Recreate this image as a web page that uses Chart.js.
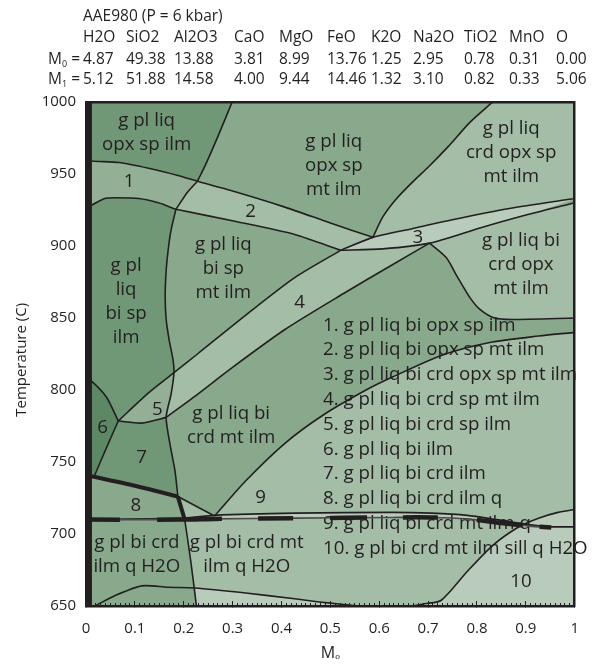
<!DOCTYPE html>
<html>
<head>
<meta charset="utf-8">
<script src="https://cdn.jsdelivr.net/npm/chart.js@4.4.1/dist/chart.umd.min.js"></script>
<style>
  html, body { margin: 0; padding: 0; background: #fff; }
  #wrap { position: relative; width: 598px; height: 668px; overflow: hidden; }
  #chart { position: absolute; left: 0; top: 0; }
  .hd { position: absolute; font: 15.5px "Open Sans", sans-serif; line-height: 20px; color: #231f20; white-space: nowrap; }
  .hd sub { font-size: 9px; vertical-align: -3px; line-height: 0; }
</style>
</head>
<body>
<div id="wrap">
  <canvas id="chart" width="598" height="668"></canvas>
  <div id="header"></div>
</div>
<script>
const INK = '#231f20';

// bulk compositions (mol %)
const oxides = ['H2O', 'SiO2', 'Al2O3', 'CaO', 'MgO', 'FeO', 'K2O', 'Na2O', 'TiO2', 'MnO', 'O'];
const m0 = [4.87, 49.38, 13.88, 3.81, 8.99, 13.76, 1.25, 2.95, 0.78, 0.31, 0.00];
const m1 = [5.12, 51.88, 14.58, 4.00, 9.44, 14.46, 1.32, 3.10, 0.82, 0.33, 5.06];

// axes
const xTicks = [0, 0.1, 0.2, 0.3, 0.4, 0.5, 0.6, 0.7, 0.8, 0.9, 1];
const tempTicks = [650, 700, 750, 800, 850, 900, 950, 1000];

// field boundaries, [M0, T(C)]
const leftTopEdge = [[0.299, 1000], [0.271, 977], [0.244, 956], [0.228, 945]];
const band1Top = [[0, 960], [0.012, 959], [0.068, 958], [0.128, 954], [0.188, 949], [0.228, 945]];
const band2Top = [[0.228, 945], [0.307, 937.5], [0.407, 927], [0.5, 916], [0.587, 906]];
const band1Bot = [[0, 928], [0.012, 928.5], [0.038, 933], [0.062, 933.5], [0.108, 933], [0.148, 930], [0.184, 925.5]];
const band2Bot = [[0.184, 925.5], [0.307, 917], [0.427, 908], [0.521, 897]];
const link12 = [[0.228, 945], [0.208, 937.5], [0.184, 925.5]];
const vCurve = [[0.184, 925.5], [0.174, 911], [0.168, 897], [0.164, 883], [0.162, 865], [0.164, 849], [0.170, 835],
  [0.178, 821], [0.180, 812], [0.174, 797], [0.164, 781], [0.172, 762], [0.182, 744], [0.188, 726]];
const vThick = [[0.188, 726], [0.202, 710]];
const vLow = [[0.202, 710], [0.214, 682], [0.226, 650]];
const upper4 = [[0.521, 897], [0.427, 878], [0.327, 852], [0.228, 825], [0.180, 812], [0.128, 798], [0.066, 778.5]];
const lower4 = [[0.164, 781], [0.228, 797], [0.293, 814], [0.407, 842], [0.527, 867], [0.627, 887], [0.703, 902]];
const band3Top = [[0.521, 897], [0.587, 906], [0.667, 912], [0.747, 918], [0.866, 926], [1, 933]];
const band3Bot = [[0.521, 897], [0.607, 898], [0.703, 902], [0.806, 912.5], [0.906, 922], [1, 930]];
const crdCurve = [[0.832, 1000], [0.786, 986], [0.741, 969], [0.701, 955], [0.667, 944], [0.633, 932], [0.607, 920], [0.587, 906]];
const opxCurve = [[0.703, 902], [0.737, 892], [0.760, 878.5], [0.786, 864], [0.806, 856], [0.836, 850], [0.872, 849], [1, 850]];
const qCurve = [[0.263, 712.5], [0.327, 737], [0.407, 763], [0.487, 783], [0.573, 800], [0.627, 809], [0.727, 824],
  [0.826, 833], [0.926, 837.5], [1, 840]];
const line89 = [[0.188, 726], [0.263, 712.5]];
const line78 = [[0, 741], [0.1, 733.5], [0.188, 726]];
const line67 = [[0.066, 778.5], [0.042, 760], [0.018, 741]];
const line6top = [[0, 808], [0.012, 806], [0.042, 795], [0.066, 778.5]];
const line5bot = [[0.066, 778.5], [0.114, 777], [0.164, 781]];
const solidus = [[0, 710], [0.202, 711], [0.263, 713], [0.427, 714.5], [0.627, 715], [0.707, 714.5], [0.78, 713],
  [0.84, 710], [0.906, 706.5], [0.952, 705], [1, 705]];
const solidusLow = [[0, 710], [0.202, 710], [0.263, 710.5], [0.427, 711], [0.627, 711.5], [0.707, 711.5], [0.78, 710.5],
  [0.84, 708], [0.906, 705.5], [0.952, 704.5]];
const sillCurve = [[0.67, 650], [0.693, 651.5], [0.727, 654], [0.780, 674], [0.832, 692], [0.886, 705], [0.926, 711],
  [0.966, 715], [1, 717]];
const h2oCurve = [[0.018, 650], [0.058, 657], [0.114, 664], [0.168, 663], [0.222, 662.5], [0.327, 659], [0.427, 655],
  [0.473, 653], [0.527, 651], [0.56, 650]];
const leftBar = [[0.005, 650], [0.005, 1000]];

// labels
const fieldLabels = [
  {text: 'g pl liq\nopx sp ilm', x: 0.124, t: 979},
  {text: '1', x: 0.088, t: 944.5},
  {text: '2', x: 0.337, t: 923.6},
  {text: 'g pl\nliq\nbi sp\nilm', x: 0.082, t: 861.5},
  {text: 'g pl liq\nbi sp\nmt ilm', x: 0.281, t: 884.4},
  {text: 'g pl liq\nopx sp\nmt ilm', x: 0.507, t: 956},
  {text: 'g pl liq\ncrd opx sp\nmt ilm', x: 0.870, t: 965},
  {text: '3', x: 0.679, t: 906},
  {text: 'g pl liq bi\ncrd opx\nmt ilm', x: 0.890, t: 887},
  {text: '4', x: 0.437, t: 860.4},
  {text: '5', x: 0.146, t: 786},
  {text: '6', x: 0.034, t: 774},
  {text: '7', x: 0.114, t: 752.8},
  {text: '8', x: 0.102, t: 720},
  {text: '9', x: 0.357, t: 725},
  {text: 'g pl liq bi\ncrd mt ilm', x: 0.297, t: 775},
  {text: 'g pl bi crd\nilm q H2O', x: 0.104, t: 685.8},
  {text: 'g pl bi crd mt\nilm q H2O', x: 0.329, t: 685.8},
  {text: '10', x: 0.890, t: 666.7}
];
const assemblages = [
  '1. g pl liq bi opx sp ilm',
  '2. g pl liq bi opx sp mt ilm',
  '3. g pl liq bi crd opx sp mt ilm',
  '4. g pl liq bi crd sp mt ilm',
  '5. g pl liq bi crd sp ilm',
  '6. g pl liq bi ilm',
  '7. g pl liq bi crd ilm',
  '8. g pl liq bi crd ilm q',
  '9. g pl liq bi crd mt ilm q',
  '10. g pl bi crd mt ilm sill q H2O'
];
const listAt = [0.485, 845];

// header
const colLeft = [83, 126, 174, 234, 279, 327, 371, 413, 464, 509, 556];
const header = document.getElementById('header');
function put(html, left, mid) {
  const d = document.createElement('div');
  d.className = 'hd';
  d.innerHTML = html;
  d.style.left = left + 'px';
  d.style.top = (mid - 10.5) + 'px';
  header.appendChild(d);
}
put('AAE980 (P = 6 kbar)', 83, 15);
oxides.forEach((o, i) => put(o, colLeft[i], 36));
put('M<sub>0</sub> =', 48, 58);
m0.forEach((v, i) => put(v.toFixed(2), colLeft[i], 58));
put('M<sub>1</sub> =', 48, 78.5);
m1.forEach((v, i) => put(v.toFixed(2), colLeft[i], 78.5));

// colours
const C_MED = '#89a98c', C_DARK = '#709877', C_DARKER = '#5c8864', C_LIGHT = '#a4bda6',
  C_BAND = '#93b096', C_PALE = '#b9ccbb';

const rev = a => a.slice().reverse();
const toXY = pts => pts.map(([x, t]) => ({x: x, y: t}));

const plotBox = [[0, 650], [1, 650], [1, 1000], [0, 1000]];
const regionFills = [
  [plotBox, C_MED],
  [[[0, 1000], ...leftTopEdge, ...rev(band1Top).slice(1)], C_DARK],
  [[...band1Top, ...link12.slice(1), ...rev(band1Bot).slice(1)], C_BAND],
  [[...band2Top, ...rev(band3Top.slice(0, 2)).slice(1), ...rev(band2Bot).slice(1), ...rev(link12).slice(1)], C_LIGHT],
  [[...crdCurve, ...band3Top.slice(2), [1, 1000]], C_LIGHT],
  [[...band3Top, ...rev(band3Bot).slice(1)], C_PALE],
  [[...band3Bot.slice(2), ...rev(opxCurve)], C_LIGHT],
  [[[0, 928], [0, 808], ...line6top.slice(1), ...rev(upper4.slice(4)).slice(1),
    ...rev(vCurve.slice(0, 9)).slice(1), ...rev(band1Bot).slice(1)], C_DARK],
  [[...upper4.slice(0, 5), ...vCurve.slice(9, 11), ...lower4.slice(1), ...rev(band3Bot.slice(0, 3)).slice(1)], C_LIGHT],
  [[...upper4.slice(4), ...line5bot.slice(1), ...rev(vCurve.slice(8, 11)).slice(1)], C_BAND],
  [[...line6top, ...line67.slice(1), [0, 741]], C_DARKER],
  [[...line5bot, ...vCurve.slice(11), ...rev(line78).slice(1), ...rev(line67)], C_DARK],
  [[...line89, ...qCurve.slice(1), ...rev(solidus.slice(1))], C_LIGHT],
  [[...solidus.slice(1), [1, 650], ...rev(vLow)], C_LIGHT],
  [[...h2oCurve.slice(4), [0.226, 650]], C_PALE],
  [[...solidus.slice(1, 10), ...rev(solidusLow.slice(1))], C_PALE],
  [[...sillCurve, [1, 650]], C_PALE]
];
const thinLines = [leftTopEdge, band1Top, band2Top, band1Bot, band2Bot, link12, vCurve, vLow, upper4, lower4,
  band3Top, band3Bot, crdCurve, opxCurve, qCurve, line89, line67, line6top, line5bot, sillCurve, h2oCurve];

const datasets = [];
regionFills.forEach(([pts, color], k) => {
  datasets.push({
    data: toXY(pts), fill: 'shape', backgroundColor: color, borderColor: color, borderWidth: 1,
    pointRadius: 0, tension: 0, order: 500 - k, xAxisID: 'x', yAxisID: 'y',
    topFill: k === regionFills.length - 1
  });
});
function addLine(pts, width, extra) {
  datasets.push(Object.assign({
    data: toXY(pts), fill: false, borderColor: INK, borderWidth: width, pointRadius: 0,
    tension: 0.25, order: 100 - datasets.length, xAxisID: 'x', yAxisID: 'y'
  }, extra || {}));
}
thinLines.forEach(l => addLine(l, 1.6));
addLine(line78, 4);
addLine(vThick, 4);
addLine(solidus, 1.8);
addLine(solidusLow, 1.6, {borderColor: '#4a4a48'});
addLine(solidusLow, 4.5, {borderDash: [34, 37, 65, 36, 35, 37, 37, 36, 35, 39, 46, 17, 23, 200]});
addLine(leftBar, 7, {tension: 0});

const labelPlugin = {
  id: 'fieldLabels',
  afterDatasetDraw(chart, args) {
    if (!chart.data.datasets[args.index].topFill) return;
    const {ctx, scales: {x, y}} = chart;
    ctx.save();
    ctx.fillStyle = INK;
    ctx.font = '18.7px "Open Sans"';
    ctx.textBaseline = 'middle';
    ctx.textAlign = 'center';
    fieldLabels.forEach(f => {
      const px = x.getPixelForValue(f.x);
      const py = y.getPixelForValue(f.t);
      const lines = f.text.split('\n');
      lines.forEach((s, i) => ctx.fillText(s, px, py + (i - (lines.length - 1) / 2) * 24));
    });
    ctx.textAlign = 'left';
    const lx = x.getPixelForValue(listAt[0]);
    const ly = y.getPixelForValue(listAt[1]);
    assemblages.forEach((s, i) => ctx.fillText(s, lx, ly + i * 24.8));
    ctx.restore();
  }
};

const tickFont = {family: 'Open Sans', size: 15};

new Chart(document.getElementById('chart'), {
  type: 'line',
  data: {datasets: datasets},
  options: {
    responsive: false,
    animation: false,
    devicePixelRatio: 1,
    events: [],
    layout: {padding: {top: 102, right: 11, bottom: 0, left: 0}},
    plugins: {legend: {display: false}, tooltip: {enabled: false}},
    scales: {
      x: {
        type: 'linear', position: 'bottom', min: 0, max: 1, weight: 1,
        afterBuildTicks: s => { s.ticks = xTicks.map(v => ({value: v})); },
        ticks: {font: tickFont, color: INK, padding: 19, maxRotation: 0, callback: v => String(+v.toFixed(1))},
        grid: {drawOnChartArea: false, drawTicks: true, tickLength: -5, color: INK, lineWidth: 1, z: 1},
        border: {display: true, color: INK, width: 2.5, z: 1},
        title: {display: true, text: 'Mₒ', color: INK, font: {family: 'Open Sans', size: 16}, padding: {top: 0, bottom: 5}},
        afterFit: s => { s.height = 62; }
      },
      xMinor: {
        type: 'linear', position: 'bottom', min: 0, max: 1, weight: 0,
        ticks: {display: false, stepSize: 0.01, autoSkip: false},
        grid: {drawOnChartArea: false, drawTicks: true, tickLength: -3, color: INK, lineWidth: 1, z: 1},
        border: {display: false},
        afterFit: s => { s.height = 0; }
      },
      xTop: {
        type: 'linear', position: 'top', min: 0, max: 1,
        ticks: {display: false},
        grid: {drawOnChartArea: false, drawTicks: false, z: 1},
        border: {display: true, color: INK, width: 2.5, z: 1},
        afterFit: s => { s.height = 0; }
      },
      y: {
        type: 'linear', position: 'left', min: 650, max: 1000,
        afterBuildTicks: s => { s.ticks = tempTicks.map(v => ({value: v})); },
        ticks: {font: tickFont, color: INK, padding: 10, callback: v => String(v)},
        grid: {drawOnChartArea: false, drawTicks: false},
        border: {display: true, color: INK, width: 2},
        title: {display: true, text: 'Temperature (C)   ', color: INK, font: {family: 'Open Sans', size: 15}, padding: {top: 13, bottom: 0}},
        afterFit: s => { s.width = 86; }
      },
      yRight: {
        type: 'linear', position: 'right', min: 650, max: 1000,
        ticks: {display: false},
        grid: {drawOnChartArea: false, drawTicks: false, z: 1},
        border: {display: true, color: INK, width: 2.5, z: 1},
        afterFit: s => { s.width = 0; }
      }
    }
  },
  plugins: [labelPlugin]
});
</script>
</body>
</html>
